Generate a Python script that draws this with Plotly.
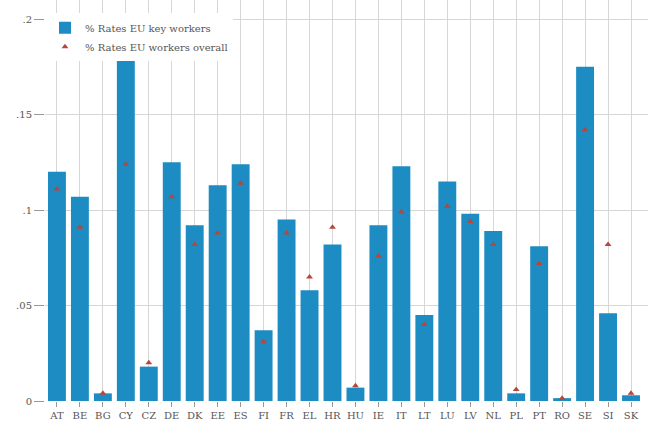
import plotly.graph_objects as go

countries = ["AT", "BE", "BG", "CY", "CZ", "DE", "DK", "EE", "ES", "FI", "FR", "EL", "HR",
             "HU", "IE", "IT", "LT", "LU", "LV", "NL", "PL", "PT", "RO", "SE", "SI", "SK"]
key_workers = [0.120, 0.107, 0.004, 0.178, 0.018, 0.125, 0.092, 0.113, 0.124, 0.037, 0.095,
               0.058, 0.082, 0.007, 0.092, 0.123, 0.045, 0.115, 0.098, 0.089, 0.004, 0.081,
               0.0015, 0.175, 0.046, 0.003]
overall = [0.111, 0.091, 0.004, 0.124, 0.020, 0.107, 0.082, 0.088, 0.114, 0.031, 0.088,
           0.065, 0.091, 0.008, 0.076, 0.099, 0.040, 0.102, 0.094, 0.082, 0.006, 0.072,
           0.0015, 0.142, 0.082, 0.004]
ytick_vals = [0, 0.05, 0.1, 0.15, 0.2]
ytick_text = ["0", ".05", ".1", ".15", ".2"]

FONT = "DejaVu Serif"
GRID = "#d6d6d6"

fig = go.Figure()
fig.add_trace(go.Bar(
    x=countries, y=key_workers, name="% Rates EU key workers",
    marker=dict(color="#1c8cc2", line=dict(width=0)), width=0.78,
))
fig.add_trace(go.Scatter(
    x=countries, y=overall, name="% Rates EU workers overall", mode="markers",
    marker=dict(symbol="triangle-up", size=6, color="#b5473d"),
))

fig.update_layout(
    width=648, height=423,
    margin=dict(l=45, r=0, t=0, b=22),
    paper_bgcolor="white", plot_bgcolor="white",
    font=dict(family=FONT, size=10, color="#555555"),
    showlegend=True,
    legend=dict(x=0.0, y=0.967, xanchor="left", yanchor="top",
                bgcolor="white", borderwidth=0,
                font=dict(family=FONT, size=10, color="#555555"),
                itemwidth=30, tracegroupgap=0),
)
fig.update_xaxes(
    range=[-0.52, 25.74], showgrid=True, gridcolor=GRID, gridwidth=1,
    ticks="outside", ticklen=5, tickcolor="#999999", showline=False,
    tickfont=dict(family=FONT, size=10, color="#555555"), zeroline=False,
)
fig.update_yaxes(
    range=[0, 0.21], tickvals=ytick_vals, ticktext=ytick_text,
    showgrid=True, gridcolor=GRID, gridwidth=1,
    ticks="outside", ticklen=10, tickcolor="#999999", showline=False, zeroline=False,
    tickfont=dict(family=FONT, size=10, color="#555555"),
)

fig.write_html("out.html", config={"displayModeBar": False},
               post_script="document.body.style.margin='0px';")
